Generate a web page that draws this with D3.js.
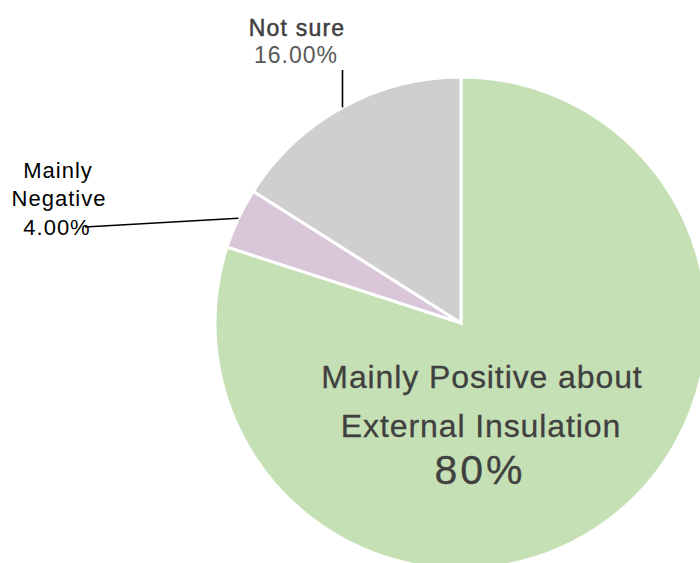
<!DOCTYPE html>
<html>
<head>
<meta charset="utf-8">
<script src="https://cdn.jsdelivr.net/npm/d3@7"></script>
<style>
  html, body { margin: 0; padding: 0; background: #fff; }
  svg { display: block; font-family: "Liberation Sans", Arial, Helvetica, sans-serif; }
</style>
</head>
<body>
<svg id="chart" width="700" height="563"></svg>
<script>
// Survey answers: attitude towards external insulation
const categories = ["Mainly Positive about External Insulation", "Mainly Negative", "Not sure"];
const shares = [80, 4, 16];
const percentLabels = ["80%", "4.00%", "16.00%"];
const colours = ["#c5e0b4", "#d9c6d8", "#d0cecf"];

const svg = d3.select("#chart");
const cx = 461, cy = 323, radius = 246;

const pie = d3.pie().sort(null).value(d => d.value);
const arcs = pie(categories.map((c, i) => ({ name: c, value: shares[i], colour: colours[i] })));
const arc = d3.arc().innerRadius(0).outerRadius(radius);

const g = svg.append("g").attr("transform", `translate(${cx},${cy})`);

g.selectAll("path.slice")
  .data(arcs)
  .join("path")
  .attr("class", "slice")
  .attr("d", arc)
  .attr("fill", d => d.data.colour)
  .attr("stroke", "#ffffff")
  .attr("stroke-width", 3)
  .attr("stroke-linejoin", "miter");

// point on the rim at a slice's mid angle
function rimPoint(d) {
  const a = (d.startAngle + d.endAngle) / 2;
  return [cx + radius * Math.sin(a), cy - radius * Math.cos(a)];
}

// Leader lines for the two small slices
const negRim = rimPoint(arcs[1]);
const notRim = rimPoint(arcs[2]);
svg.append("line")
  .attr("x1", negRim[0]).attr("y1", negRim[1])
  .attr("x2", 85).attr("y2", 227)
  .attr("stroke", "#000").attr("stroke-width", 1.6);
svg.append("line")
  .attr("x1", notRim[0]).attr("y1", notRim[1])
  .attr("x2", notRim[0]).attr("y2", 70)
  .attr("stroke", "#000").attr("stroke-width", 1.6);

// Text labels
function label(x, y, text, size, fill, spacing, weight) {
  const t = svg.append("text")
    .attr("x", x).attr("y", y)
    .attr("text-anchor", "middle")
    .attr("font-size", size)
    .attr("letter-spacing", spacing)
    .attr("fill", fill)
    .text(text);
  if (weight) t.attr("stroke", fill).attr("stroke-width", weight);
  return t;
}

label(297, 36, categories[2], 23, "#404040", 1.2, 0.5);
label(296, 63, percentLabels[2], 23, "#595959", 1.0);

label(58, 178, "Mainly", 22, "#000", 1.0);
label(59, 206, "Negative", 22, "#000", 1.0);
label(57, 235, percentLabels[1], 22, "#000", 1.0);

// Label inside the large slice
label(482, 388, "Mainly Positive about", 32, "#404040", 0.9, 0.3);
label(481, 437, "External Insulation", 32, "#404040", 0.9, 0.3);
label(480, 484, percentLabels[0], 41, "#404040", 3, 0.3);
</script>
</body>
</html>
